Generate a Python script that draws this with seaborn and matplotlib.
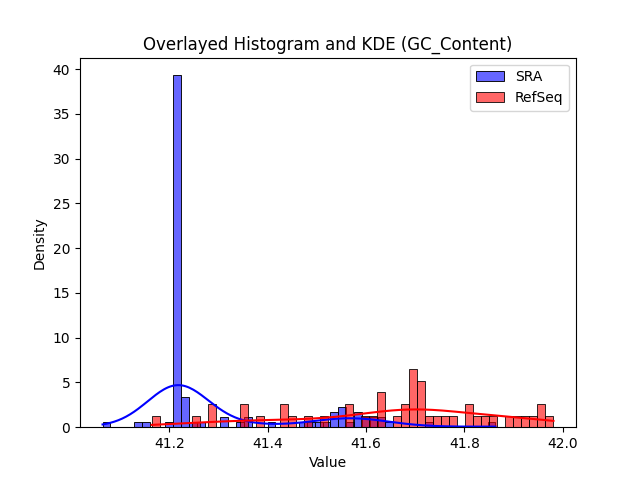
import numpy as np
import pandas as pd
import seaborn as sns
import matplotlib
matplotlib.use("Agg")
import matplotlib.pyplot as plt

# GC content values (value, how many times it occurs)
sra_values = [41.064, 41.136, 41.152, 41.200, 41.216, 41.232, 41.248, 41.264,
              41.312, 41.344, 41.359, 41.407, 41.471, 41.487, 41.503, 41.519,
              41.535, 41.551, 41.567, 41.583, 41.599, 41.615, 41.631, 41.647,
              41.727, 41.863]
sra_counts = [1, 1, 1, 1, 71, 6, 1, 1,
              2, 1, 2, 1, 1, 1, 1, 1,
              3, 4, 1, 3, 2, 2, 2, 1,
              1, 1]

refseq_values = [41.164, 41.254, 41.287, 41.352, 41.385, 41.434, 41.450, 41.475,
                 41.515, 41.564, 41.597, 41.613, 41.630, 41.662, 41.679, 41.695,
                 41.711, 41.728, 41.744, 41.760, 41.777, 41.809, 41.825, 41.842,
                 41.858, 41.891, 41.907, 41.923, 41.940, 41.956, 41.981]
refseq_counts = [1, 1, 2, 2, 1, 2, 1, 1,
                 1, 2, 1, 1, 3, 1, 2, 5,
                 4, 1, 1, 1, 1, 2, 1, 1,
                 1, 1, 1, 1, 1, 2, 1]

sra = pd.Series(np.repeat(sra_values, sra_counts), name="GC_Content")
refseq = pd.Series(np.repeat(refseq_values, refseq_counts), name="GC_Content")

fig, ax = plt.subplots(figsize=(6.4, 4.8), dpi=100)

sns.histplot(sra, bins=50, stat="density", kde=True, color="blue", alpha=0.6,
             label="SRA", ax=ax)
sns.histplot(refseq, bins=50, stat="density", kde=True, color="red", alpha=0.6,
             label="RefSeq", ax=ax)

ax.set_title("Overlayed Histogram and KDE (GC_Content)")
ax.set_xlabel("Value")
ax.set_ylabel("Density")
ax.legend()

plt.savefig("out.png", dpi=100)
